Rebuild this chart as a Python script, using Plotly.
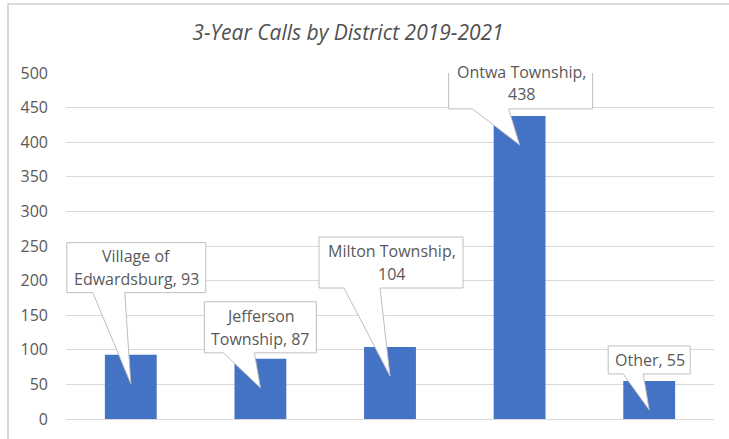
import textwrap
import plotly.graph_objects as go

# ---- data ----
categories = ["Village of Edwardsburg", "Jefferson Township", "Milton Township",
              "Ontwa Township", "Other"]
calls = [93, 87, 104, 438, 55]
y_ticks = [0, 50, 100, 150, 200, 250, 300, 350, 400, 450, 500]

# ---- callout layout (pixel offsets relative to the bar top centre, y up) ----
# box: left, right, top, bottom ; tail base: x0, x1 ; wrap width in chars
callout_box = [(-64, 75, 112, 62), (-56, 56, 57, 6), (-71, 73, 110, 59),
               (-71, 73, 59, 7), (-41, 41, 35, 7)]
callout_tail = [(-38, -6), (-37, -6), (-46, -10), (-47, -11), (-26, -6)]
wrap_width = [15, 12, 16, 15, 15]
TIP_DROP = -29

TEXT = "#595959"
GRID = "#d9d9d9"
FONT = "Open Sans"
BAR = "#4472C4"

xs = list(range(len(categories)))

fig = go.Figure(go.Bar(x=xs, y=calls, width=0.4, marker_color=BAR,
                       marker_line_width=0, hoverinfo="skip"))

shapes = []
annotations = []
for i, (cat, val) in enumerate(zip(categories, calls)):
    l, r, t, b = callout_box[i]
    t0, t1 = callout_tail[i]
    path = (f"M {l},{t} L {r},{t} L {r},{b} L {t1},{b} L 0,{TIP_DROP} "
            f"L {t0},{b} L {l},{b} Z")
    shapes.append(dict(type="path", xref="x", yref="y", xsizemode="pixel",
                       ysizemode="pixel", xanchor=i, yanchor=val, path=path,
                       fillcolor="white", line=dict(color="#bfbfbf", width=1),
                       layer="above"))
    label = f"{cat}, {val}"
    lines = textwrap.wrap(label, wrap_width[i])
    cy = (t + b) / 2
    n = len(lines)
    for k, line in enumerate(lines):
        off = ((n - 1) / 2 - k) * 22.5
        annotations.append(dict(x=i, y=val, xref="x", yref="y", text=line,
                                showarrow=False, xshift=(l + r) / 2 + 0.5,
                                yshift=cy + off, xanchor="center",
                                yanchor="middle",
                                font=dict(family=FONT, size=16, color=TEXT)))

# chart-area frame (left & top borders visible)
shapes.append(dict(type="rect", xref="paper", yref="paper",
                   x0=(8 - 66) / 648, x1=(735 - 66) / 648,
                   y0=(419 - 460) / 346, y1=(419 - 4) / 346,
                   line=dict(color="#d0d0d0", width=1.5), fillcolor="rgba(0,0,0,0)",
                   layer="below"))

fig.update_layout(
    width=729, height=439,
    margin=dict(l=66, r=15, t=73, b=20),
    paper_bgcolor="white", plot_bgcolor="white",
    showlegend=False,
    title=dict(text="3-Year Calls by District 2019-2021",
               x=348 / 729, xref="container", xanchor="center",
               y=1 - 33 / 439, yref="container", yanchor="middle",
               font=dict(family=FONT, size=21, color="#505050", style="italic")),
    xaxis=dict(range=[-0.5, len(categories) - 0.5], showticklabels=False,
               showgrid=False, zeroline=False, showline=False, ticks="",
               fixedrange=True, automargin=False),
    yaxis=dict(range=[0, 500], tickvals=y_ticks, showgrid=True,
               gridcolor=GRID, gridwidth=1, zeroline=True, zerolinecolor=GRID,
               zerolinewidth=1, showline=False, ticks="", ticklabelstandoff=17,
               tickfont=dict(family=FONT, size=16, color=TEXT), fixedrange=True,
               automargin=False),
    shapes=shapes,
    annotations=annotations,
)

fig.write_html("out.html")
